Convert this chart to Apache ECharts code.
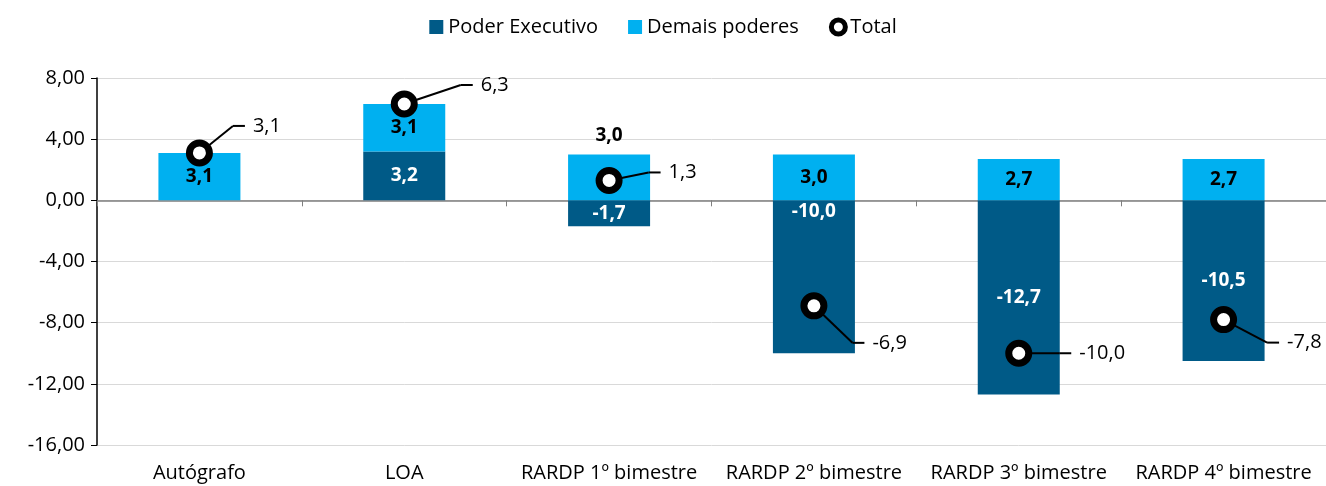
<!DOCTYPE html>
<html lang="pt">
<head>
  <meta charset="UTF-8">
  <title>Resultado primário</title>
  <script src="https://cdn.jsdelivr.net/npm/echarts@6/dist/echarts.min.js"></script>
  <style>
    html, body { margin: 0; padding: 0; background: #fff; }
    #chart { width: 1326px; height: 486px; }
  </style>
</head>
<body>
<div id="chart"></div>
<script>
// dados
var categorias = ['Autógrafo', 'LOA', 'RARDP 1º bimestre', 'RARDP 2º bimestre', 'RARDP 3º bimestre', 'RARDP 4º bimestre'];
var poderExecutivo = [null, 3.2, -1.7, -10.0, -12.7, -10.5];
var demaisPoderes = [3.1, 3.1, 3.0, 3.0, 2.7, 2.7];
var total = [3.1, 6.3, 1.3, -6.9, -10.0, -7.8];
var yTicks = [-16, 8, 4];  // min, max, intervalo

// deslocamento dos rótulos do total (px), a partir da direita do marcador
var totalLabelOffset = [[20, -27], [43, -19], [26, -8], [25, 37], [27, 0], [30, 23]];

var fonte = 'Open Sans';
var fmt = function (v) { return v.toFixed(1).replace('.', ','); };

var chart = echarts.init(document.getElementById('chart'));

var option = {
  textStyle: { fontFamily: fonte },
  legend: {
    top: 12,
    left: 'center',
    itemGap: 30,
    itemWidth: 14,
    itemHeight: 14,
    textStyle: { fontSize: 20, color: '#000', fontFamily: fonte },
    data: [
      { name: 'Poder Executivo', icon: 'rect' },
      { name: 'Demais poderes', icon: 'rect' },
      { name: 'Total', icon: 'circle', itemStyle: { color: '#fff', borderColor: '#000', borderWidth: 5 } }
    ]
  },
  grid: { left: 97, right: 0, top: 78, bottom: 41, containLabel: false },
  xAxis: [
    {
      type: 'category',
      data: categorias,
      position: 'bottom',
      axisLine: { show: false, onZero: false },
      axisTick: { show: false },
      axisLabel: { fontSize: 20, color: '#000', margin: 18, interval: 0 }
    },
    {
      type: 'category',
      data: categorias,
      position: 'bottom',
      axisLine: { show: true, onZero: true, lineStyle: { color: '#7f7f7f', width: 1.5 } },
      axisTick: { show: true, length: 6, lineStyle: { color: '#7f7f7f' } },
      axisLabel: { show: false }
    }
  ],
  yAxis: {
    type: 'value',
    min: yTicks[0],
    max: yTicks[1],
    interval: yTicks[2],
    axisLine: { show: true, lineStyle: { color: '#000', width: 1.5 } },
    axisTick: { show: true, length: 6, lineStyle: { color: '#000' } },
    axisLabel: {
      fontSize: 20, color: '#000', margin: 12,
      formatter: function (v) { return v.toFixed(2).replace('.', ','); }
    },
    splitLine: { show: true, lineStyle: { color: '#d9d9d9', width: 1 } }
  },
  series: [
    {
      name: 'Poder Executivo',
      type: 'bar',
      stack: 'total',
      barWidth: 82,
      itemStyle: { color: '#005a87' },
      label: {
        show: true,
        position: 'inside',
        color: '#fff',
        fontWeight: 'bold',
        fontSize: 19,
        formatter: function (p) { return fmt(p.value); }
      },
      data: poderExecutivo.map(function (v, i) {
        if (v === null) return null;
        if (i === 3) return { value: v, label: { position: 'insideTop', distance: 2 } };
        return v;
      })
    },
    {
      name: 'Demais poderes',
      type: 'bar',
      stack: 'total',
      barWidth: 82,
      itemStyle: { color: '#00b0f0' },
      label: {
        show: true,
        position: 'inside',
        color: '#000',
        fontWeight: 'bold',
        fontSize: 19,
        formatter: function (p) { return fmt(p.value); }
      },
      data: demaisPoderes.map(function (v, i) {
        if (i === 2) return { value: v, label: { position: 'top', distance: 9 } };
        return v;
      })
    },
    {
      name: 'Total',
      type: 'scatter',
      symbol: 'circle',
      symbolSize: 20,
      z: 5,
      itemStyle: { color: '#fff', borderColor: '#000', borderWidth: 7, opacity: 1 },
      label: {
        show: true,
        position: 'right',
        distance: 0,
        color: '#000',
        formatter: function (p) { return '{l| }{t|' + fmt(p.value) + '}'; },
        rich: {
          l: { width: 12, height: 2, backgroundColor: '#000', fontSize: 2, lineHeight: 2 },
          t: { fontSize: 20, color: '#000', padding: [0, 0, 0, 8] }
        }
      },
      labelLine: { show: true, lineStyle: { color: '#000', width: 2 } },
      labelLayout: function (params) {
        var o = totalLabelOffset[params.dataIndex];
        return { dx: o[0], dy: o[1] };
      },
      data: total
    }
  ]
};

chart.setOption(option);
</script>
</body>
</html>
